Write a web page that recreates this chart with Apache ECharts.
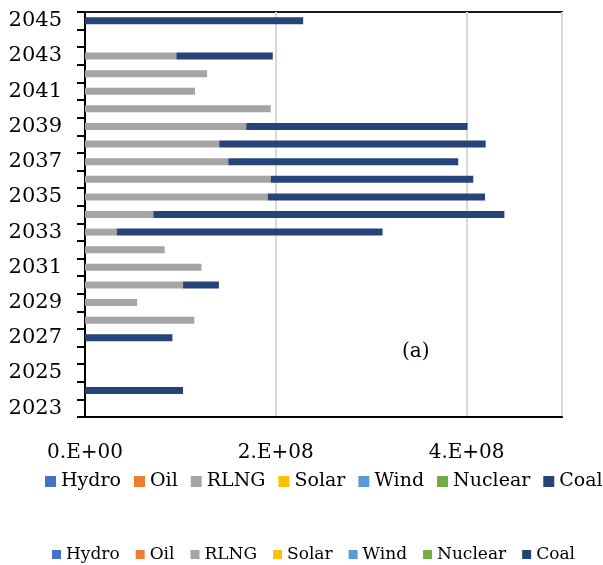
<!DOCTYPE html>
<html>
<head>
<meta charset="utf-8">
<script src="https://cdn.jsdelivr.net/npm/echarts@6/dist/echarts.min.js"></script>
<style>
  html, body { margin: 0; padding: 0; background: #fff; }
  #chart { width: 603px; height: 565px; }
</style>
</head>
<body>
<div id="chart"></div>
<script>
// Generation by source per year, stacked horizontally (values in units)
const years = ['2023','2024','2025','2026','2027','2028','2029','2030','2031','2032','2033','2034',
               '2035','2036','2037','2038','2039','2040','2041','2042','2043','2044','2045'];
const sources = ['Hydro', 'Oil', 'RLNG', 'Solar', 'Wind', 'Nuclear', 'Coal'];

const hydro   = [0,0,0,0,0,0,0,0,0,0,0,0,0,0,0,0,0,0,0,0,0,0,0];
const oil     = [0,0,0,0,0,0,0,0,0,0,0,0,0,0,0,0,0,0,0,0,0,0,0];
const rlng    = [0, 0, 0, 0, 0, 1.147e8, 5.47e7, 1.028e8, 1.221e8, 8.35e7, 3.33e7, 7.16e7,
                 1.916e8, 1.947e8, 1.502e8, 1.407e8, 1.69e8, 1.947e8, 1.154e8, 1.28e8, 9.58e7, 0, 0];
const solar   = [0,0,0,0,0,0,0,0,0,0,0,0,0,0,0,0,0,0,0,0,0,0,0];
const wind    = [0,0,0,0,0,0,0,0,0,0,0,0,0,0,0,0,0,0,0,0,0,0,0];
const nuclear = [0,0,0,0,0,0,0,0,0,0,0,0,0,0,0,0,0,0,0,0,0,0,0];
const coal    = [0, 1.028e8, 0, 0, 9.16e7, 0, 0, 3.76e7, 0, 0, 2.786e8, 3.68e8,
                 2.277e8, 2.123e8, 2.41e8, 2.793e8, 2.32e8, 0, 0, 0, 1.01e8, 0, 2.287e8];

const xTickLabels = { 0: '0.E+00', 200000000: '2.E+08', 400000000: '4.E+08' };

const seriesData = [hydro, oil, rlng, solar, wind, nuclear, coal];
const colors = ['#4472C4', '#ED7D31', '#A5A5A5', '#FFC000', '#5B9BD5', '#70AD47', '#264478'];
const FONT = 'DejaVu Serif';

const chart = echarts.init(document.getElementById('chart'));
chart.setOption({
  animation: false,
  color: colors,
  textStyle: { fontFamily: FONT, color: '#000' },
  grid: {
    left: 85, right: 41, top: 12, bottom: 148,
    show: true, borderColor: '#1a1a1a', borderWidth: 2, backgroundColor: 'transparent'
  },
  xAxis: {
    type: 'value',
    min: 0, max: 500000000, interval: 200000000,
    axisLine: { show: true, lineStyle: { color: '#000', width: 2 } },
    axisTick: { show: false },
    splitLine: { show: true, lineStyle: { color: '#d9d9d9', width: 2 } },
    axisLabel: {
      showMaxLabel: false,
      margin: 26,
      fontSize: 20, fontFamily: FONT, color: '#000',
      formatter: v => xTickLabels[v] !== undefined ? xTickLabels[v] : ''
    }
  },
  yAxis: {
    type: 'category',
    data: years,
    axisLine: { show: true, lineStyle: { color: '#000', width: 2 } },
    axisTick: { show: true, interval: 0, length: 8, lineStyle: { color: '#000', width: 2 } },
    axisLabel: { interval: 1, margin: 23, fontSize: 21, fontFamily: FONT, color: '#000' }
  },
  legend: [
    {
      data: sources, left: 40, top: 467, width: 640, icon: 'rect', padding: 5,
      itemWidth: 11, itemHeight: 11, itemGap: 13,
      textStyle: { fontSize: 19, fontFamily: FONT, color: '#000' },
      selectedMode: false
    },
    {
      data: sources, left: 47, top: 541, width: 600, icon: 'rect', padding: 5,
      itemWidth: 9, itemHeight: 9, itemGap: 16,
      textStyle: { fontSize: 17, fontFamily: FONT, color: '#000' },
      selectedMode: false
    }
  ],
  graphic: [{
    type: 'text', left: 402, top: 342,
    style: { text: '(a)', fontSize: 20, fontFamily: FONT, fill: '#000' }
  }],
  series: sources.map((name, i) => ({
    name: name,
    type: 'bar',
    stack: 'total',
    barWidth: 7,
    data: seriesData[i],
    itemStyle: { color: colors[i] }
  }))
});
</script>
</body>
</html>
